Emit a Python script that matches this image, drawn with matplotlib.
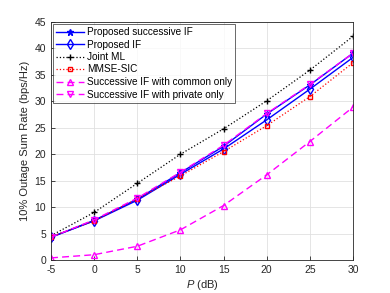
import matplotlib.pyplot as plt
import numpy as np

plt.rcParams['font.family'] = ['Liberation Sans', 'DejaVu Sans']
plt.rcParams['mathtext.fontset'] = 'custom'
plt.rcParams['mathtext.it'] = 'Liberation Sans:italic'
plt.rcParams['axes.unicode_minus'] = False

# data
p_db = [-5, 0, 5, 10, 15, 20, 25, 30]
succ_if = [4.3, 7.5, 11.5, 16.5, 21.5, 27.6, 33.1, 39.1]
prop_if = [4.3, 7.4, 11.3, 16.2, 21.0, 26.5, 32.3, 38.3]
joint_ml = [4.6, 9.0, 14.5, 20.0, 24.8, 30.1, 35.9, 42.3]
mmse_sic = [4.4, 7.4, 11.6, 15.9, 20.5, 25.4, 30.9, 37.3]
common_only = [0.4, 1.0, 2.6, 5.7, 10.3, 16.1, 22.4, 28.9]
private_only = [4.3, 7.6, 11.7, 16.6, 21.7, 27.7, 33.2, 39.1]

fig = plt.figure(figsize=(3.9, 2.93), dpi=100)
ax = fig.add_axes([51 / 390, 1 - 260 / 293, 302 / 390, 238 / 293])

ax.plot(p_db, succ_if, color='blue', marker='*', ms=4.5, lw=1.0, label='Proposed successive IF')
ax.plot(p_db, prop_if, color='blue', marker='d', ms=5, mfc='none', lw=1.0, label='Proposed IF')
ax.plot(p_db, joint_ml, color='black', marker='+', ms=5, ls=':', lw=0.9, label='Joint ML')
ax.plot(p_db, mmse_sic, color='red', marker='s', ms=3.5, mfc='none', ls=':', lw=0.9, label='MMSE-SIC')
ax.plot(p_db, common_only, color='magenta', marker='^', ms=5, mfc='none', ls=(0, (5, 3)), lw=1.0,
        label='Successive IF with common only')
ax.plot(p_db, private_only, color='magenta', marker='v', ms=5, mfc='none', ls=(0, (5, 3)), lw=1.0,
        label='Successive IF with private only')

ax.set_xlim(-5, 30)
ax.set_ylim(0, 45)
ax.set_xticks(np.arange(-5, 31, 5))
ax.set_yticks(np.arange(0, 46, 5))
ax.grid(True, color='#e0e0e0', lw=0.6)
ax.set_axisbelow(True)
for s in ax.spines.values():
    s.set_color('#262626')
    s.set_linewidth(0.6)
ax.tick_params(direction='in', labelsize=7.5, colors='#262626', length=3, width=0.6)

ax.set_xlabel('$P$ (dB)', fontsize=8, color='#262626', labelpad=2)
ax.set_ylabel('10% Outage Sum Rate (bps/Hz)', fontsize=8, color='#262626', labelpad=3)

leg = ax.legend(loc='upper left', fontsize=7.2, frameon=True, fancybox=False, borderaxespad=0.2,
                handlelength=2.8, labelspacing=0.25, borderpad=0.3, handletextpad=0.3)
leg.get_frame().set_edgecolor('#262626')
leg.get_frame().set_linewidth(0.6)

fig.savefig('out.png', dpi=100)
